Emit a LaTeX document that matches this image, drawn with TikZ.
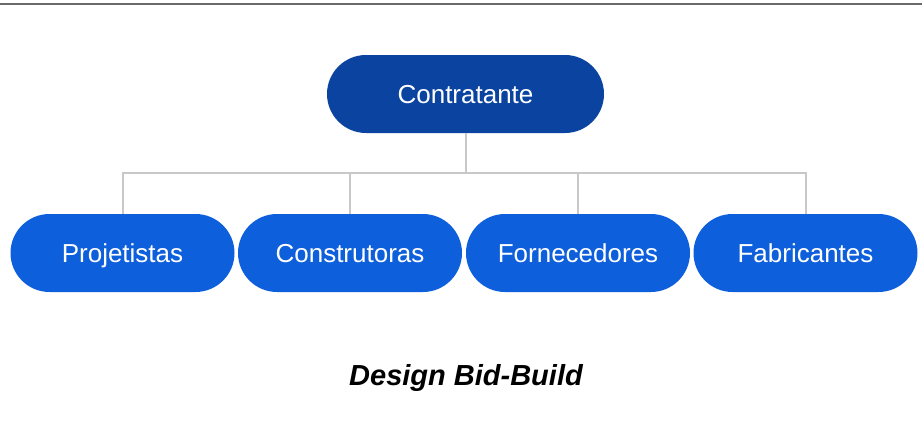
\documentclass[tikz,border=0pt]{standalone}
\usepackage{fontspec}
\setmainfont{Liberation Sans}
\definecolor{topblue}{HTML}{0A44A0}
\definecolor{pillblue}{HTML}{0D5FDC}
\definecolor{linegray}{HTML}{C8C8C8}
\definecolor{rulegray}{HTML}{6A6A6A}
\tikzset{
  pill/.style={shape=rectangle,fill=pillblue,text=white,rounded corners=39pt,
    minimum width=224pt,minimum height=78pt,inner sep=0pt,
    text height=18.6pt,text depth=0pt,
    font=\fontsize{26}{30}\selectfont},
  conn/.style={draw=linegray,line width=2pt}
}
\begin{document}
\begin{tikzpicture}[x=1pt,y=-1pt]
            \useasboundingbox (0,0) rectangle (922,426);
            \draw[rulegray,line width=1.5pt] (0,4) -- (922,4);

            \node[pill,fill=topblue,minimum width=277pt] (C) at (465.5,94) {Contratante};
            \node[pill] (P) at (122.5,253) {Projetistas};
            \node[pill] (K) at (350,253) {Construtoras};
            \node[pill] (F) at (578,253) {Fornecedores};
            \node[pill] (B) at (805.5,253) {Fabricantes};
            \coordinate (bus) at (465.5,173);

            \path[conn] (C.south) -- (bus);
            \path[conn] (P.north) -- (P.north |- bus) -- (B.north |- bus) -- (B.north);
            \path[conn] (K.north) -- (K.north |- bus);
            \path[conn] (F.north) -- (F.north |- bus);

            \node (title) at (466,378) {\fontsize{29}{34}\selectfont\bfseries\itshape Design Bid-Build};
        \end{tikzpicture}
\end{document}
